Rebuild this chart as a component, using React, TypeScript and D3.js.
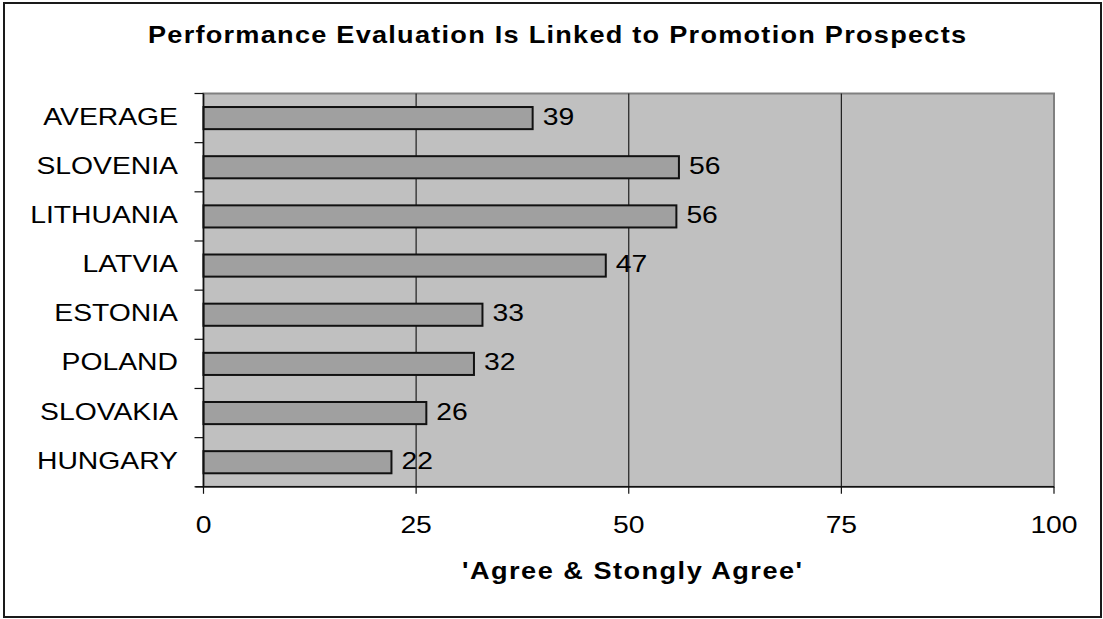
import React from "react";
import * as d3 from "d3";

const categories = ["AVERAGE", "SLOVENIA", "LITHUANIA", "LATVIA", "ESTONIA", "POLAND", "SLOVAKIA", "HUNGARY"];
const values = [38.7, 55.9, 55.6, 47.3, 32.8, 31.8, 26.2, 22.1];
const xTicks = [0, 25, 50, 75, 100];
const chartTitle = "Performance Evaluation Is Linked to Promotion Prospects";
const xAxisTitle = "'Agree & Stongly Agree'";

const W = 1103;
const H = 619;
const SX = 1.18;
const FONT = "'Liberation Sans', Arial, Helvetica, sans-serif";

export default function App() {
  const x = d3.scaleLinear().domain([0, 100]).range([203.5, 1054]);
  const y = d3
    .scaleBand<string>()
    .domain(categories)
    .range([93.5, 486.8])
    .paddingInner(0.55)
    .paddingOuter(0.275);
  const [y0, y1] = y.range();
  const step = y.step();
  const boundaries = d3.range(categories.length + 1).map((i) => y0 + i * step);
  const [x0, x1] = x.range();

  return (
    <svg
      width={W}
      height={H}
      style={{ position: "absolute", left: 0, top: 0, background: "#fff" }}
      fontFamily={FONT}
    >
      <rect x={0} y={0} width={W} height={H} fill="#fff" />
      {/* outer chart border */}
      <rect x={4} y={3} width={1097} height={614} fill="none" stroke="#1a1a1a" strokeWidth={2} />

      {/* title */}
      <g transform={`translate(148,43) scale(${SX},1)`}>
        <text
          x={0}
          y={0}
          fontSize={23}
          fontWeight="bold"
          fill="#000"
          textLength={818 / SX}
          lengthAdjust="spacing"
        >
          {chartTitle}
        </text>
      </g>

      {/* plot area */}
      <rect x={x0} y={y0} width={x1 - x0} height={y1 - y0} fill="#C0C0C0" stroke="#808080" strokeWidth={2} />

      {/* gridlines */}
      {xTicks
        .filter((t) => t > 0 && t < 100)
        .map((t) => (
          <line key={"g" + t} x1={x(t)} x2={x(t)} y1={y0} y2={y1} stroke="#1e1e1e" strokeWidth={1.2} />
        ))}

      {/* bars */}
      {categories.map((c, i) => (
        <rect
          key={"b" + c}
          x={x(0)}
          y={y(c)!}
          width={x(values[i]) - x(0)}
          height={y.bandwidth()}
          fill="#A0A0A0"
          stroke="#111"
          strokeWidth={2}
        />
      ))}

      {/* data labels */}
      {categories.map((c, i) => (
        <g key={"l" + c} transform={`translate(${x(values[i]) + 10},${y(c)! + y.bandwidth() / 2 + 6.5}) scale(${SX},1)`}>
          <text x={0} y={0} fontSize={24} fill="#000">
            {Math.round(values[i])}
          </text>
        </g>
      ))}

      {/* axes */}
      <line x1={x0} x2={x0} y1={y0} y2={y1} stroke="#111" strokeWidth={1.5} />
      <line x1={x0 - 8} x2={x1} y1={y1} y2={y1} stroke="#111" strokeWidth={1.5} />
      {boundaries.map((b, i) => (
        <line key={"yt" + i} x1={x0 - 9} x2={x0} y1={b} y2={b} stroke="#111" strokeWidth={1.2} />
      ))}
      {xTicks.map((t) => (
        <line key={"xt" + t} x1={x(t)} x2={x(t)} y1={y1} y2={y1 + 7} stroke="#111" strokeWidth={1.2} />
      ))}

      {/* category labels */}
      {categories.map((c) => (
        <g key={"c" + c} transform={`translate(178,${y(c)! + y.bandwidth() / 2 + 6.5}) scale(${SX},1)`}>
          <text x={0} y={0} fontSize={24} textAnchor="end" fill="#000">
            {c}
          </text>
        </g>
      ))}

      {/* x tick labels */}
      {xTicks.map((t) => (
        <g key={"xl" + t} transform={`translate(${x(t)},533) scale(${SX},1)`}>
          <text x={0} y={0} fontSize={24} textAnchor="middle" fill="#000">
            {t}
          </text>
        </g>
      ))}

      {/* x axis title */}
      <g transform={`translate(632,579) scale(${SX},1)`}>
        <text
          x={0}
          y={0}
          fontSize={23}
          fontWeight="bold"
          textAnchor="middle"
          fill="#000"
          textLength={340 / SX}
          lengthAdjust="spacing"
        >
          {xAxisTitle}
        </text>
      </g>
    </svg>
  );
}
